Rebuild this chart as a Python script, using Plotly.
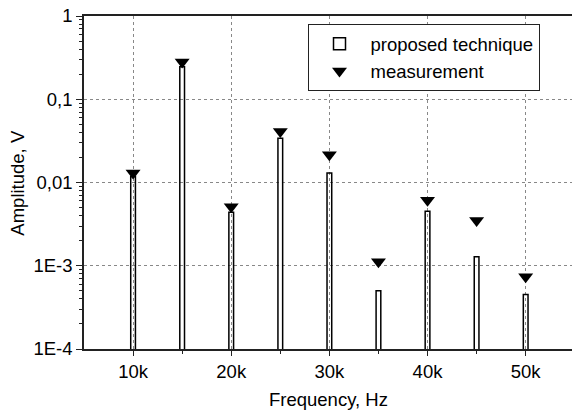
import plotly.graph_objects as go

freq = [10000, 15000, 20000, 25000, 30000, 35000, 40000, 45000, 50000]
proposed = [0.0118, 0.245, 0.0044, 0.034, 0.013, 0.0005, 0.0045, 0.00128, 0.00045]
measured = [0.0130, 0.280, 0.0051, 0.041, 0.0215, 0.00112, 0.0061, 0.0035, 0.00074]

x_tickvals = [10000, 20000, 30000, 40000, 50000]
x_ticktext = ["10k", "20k", "30k", "40k", "50k"]
y_tickvals = [1e-4, 1e-3, 1e-2, 1e-1, 1]
y_ticktext = ["1E-4", "1E-3", "0,01", "0,1", "1"]

FONT = "Liberation Sans, Arial, sans-serif"
minor_y = [k * 10 ** e for e in range(-4, 0) for k in range(2, 10)]

fig = go.Figure()
fig.add_trace(go.Bar(
    x=freq, y=proposed, width=480, name="proposed technique",
    marker=dict(color="rgba(255,255,255,0)", line=dict(color="black", width=1.5)),
))
fig.add_trace(go.Scatter(
    x=freq, y=measured, mode="markers", name="measurement",
    marker=dict(symbol="triangle-down", size=13, color="black"),
))

fig.update_layout(
    width=572, height=414,
    margin=dict(l=84, r=0, t=16, b=65, autoexpand=False),
    plot_bgcolor="white", paper_bgcolor="white",
    font=dict(family=FONT, size=19, color="black"),
    showlegend=True,
    legend=dict(
        x=0.458, y=0.975, xanchor="left", yanchor="top",
        bordercolor="#222", borderwidth=1, bgcolor="white",
        font=dict(size=18.5), itemwidth=52, tracegroupgap=0,
    ),
    xaxis=dict(
        range=[5000, 54720], tickvals=x_tickvals, ticktext=x_ticktext,
        showline=True, linecolor="#222", linewidth=1.5, mirror=True,
        ticks="outside", ticklen=5, tickcolor="#222",
        showgrid=True, gridcolor="#888", griddash="dot", gridwidth=1,
        zeroline=False, automargin=False,
        minor=dict(tickvals=[15000, 25000, 35000, 45000], ticks="outside", ticklen=3, tickcolor="#222", showgrid=False),
        tickfont=dict(size=18.5),
    ),
    yaxis=dict(
        type="log", range=[-4, 0], tickvals=y_tickvals, ticktext=y_ticktext,
        showline=True, linecolor="#222", linewidth=1.5, mirror=False,
        ticks="outside", ticklen=6, tickcolor="#222",
        showgrid=True, gridcolor="#888", griddash="dot", gridwidth=1,
        zeroline=False, automargin=False,
        minor=dict(tickvals=minor_y, ticks="outside", ticklen=3, tickcolor="#222", showgrid=False),
        tickfont=dict(size=18.5),
    ),
    annotations=[
        dict(text="Frequency, Hz", xref="paper", yref="paper", x=0.5, y=-0.153,
             xanchor="center", yanchor="middle", showarrow=False, font=dict(size=18.5)),
        dict(text="Amplitude, V", xref="paper", yref="paper", x=-0.137, y=0.5,
             xanchor="center", yanchor="middle", textangle=-90, showarrow=False, font=dict(size=18.5)),
    ],
)

fig.write_html("out.html", config={"displayModeBar": False},
               post_script="document.body.style.margin='0';document.body.style.overflow='hidden';")
